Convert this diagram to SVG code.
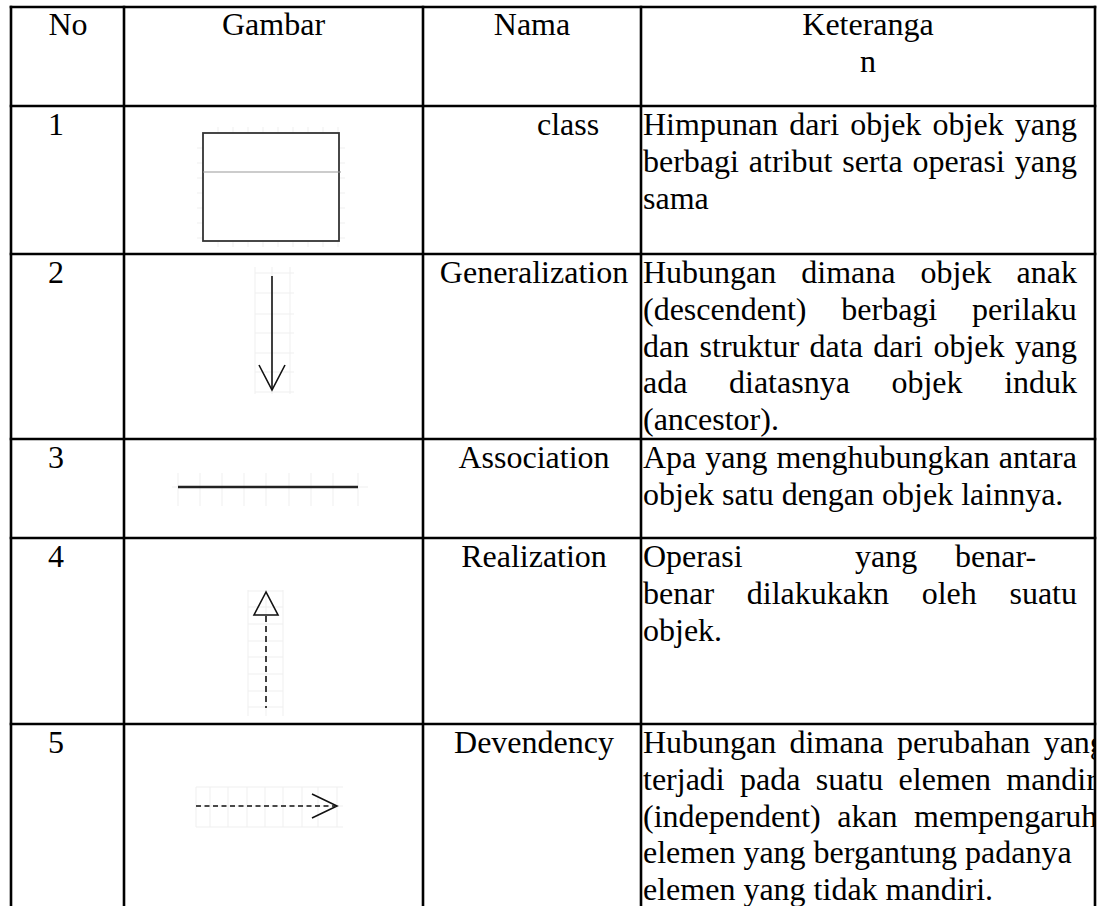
<svg xmlns="http://www.w3.org/2000/svg" width="1106" height="906" viewBox="0 0 1106 906" font-family="'Liberation Serif', 'Times New Roman', 'DejaVu Serif', serif">
<style>
  text{font-family:'Liberation Serif','Times New Roman','DejaVu Serif',serif;font-size:32px;fill:#000}
  .c{text-anchor:middle}
  .b{stroke:#000;stroke-width:2.6;fill:none}
  .g{stroke:#efefef;stroke-width:1;fill:none}
  .s{stroke:#111;stroke-width:1.6;fill:none}
  .d{stroke:#111;stroke-width:1.6;fill:none;stroke-dasharray:5 3.5}
</style>
<defs>
  <clipPath id="cellclip"><rect x="641" y="724" width="453" height="182"/></clipPath>
</defs>
<rect width="1106" height="906" fill="#fff"/>

<g id="table-lines">
  <line class="b" x1="11" y1="5.7" x2="11" y2="906"/>
  <line class="b" x1="124" y1="5.7" x2="124" y2="906"/>
  <line class="b" x1="423" y1="5.7" x2="423" y2="906"/>
  <line class="b" x1="641" y1="5.7" x2="641" y2="906"/>
  <line class="b" x1="1095" y1="5.7" x2="1095" y2="906"/>
  <line class="b" x1="9.7" y1="7" x2="1096.3" y2="7"/>
  <line class="b" x1="9.7" y1="106" x2="1096.3" y2="106"/>
  <line class="b" x1="9.7" y1="254" x2="1096.3" y2="254"/>
  <line class="b" x1="9.7" y1="439" x2="1096.3" y2="439"/>
  <line class="b" x1="9.7" y1="538" x2="1096.3" y2="538"/>
  <line class="b" x1="9.7" y1="724" x2="1096.3" y2="724"/>
</g>

<g id="header">
  <text class="c" x="68" y="35">No</text>
  <text class="c" x="273.5" y="35">Gambar</text>
  <text class="c" x="532" y="35">Nama</text>
  <text class="c" x="868" y="35">Keteranga</text>
  <text class="c" x="868" y="71.8">n</text>
</g>

<g id="row1-class">
  <text x="48" y="135">1</text>
  <g class="g">
    <path d="M218 127V247M233 127V247M248 127V247M263 127V247M278 127V247M293 127V247M308 127V247M323 127V247M338 127V247"/>
    <path d="M197 148H345M197 163H345M197 178H345M197 193H345M197 208H345M197 223H345M197 238H345"/>
  </g>
  <rect x="203" y="133" width="136" height="108" fill="#fff" stroke="#333" stroke-width="1.8"/>
  <line x1="203" y1="172" x2="341" y2="172" stroke="#999" stroke-width="1.2"/>
  <text x="537" y="135">class</text>
  <text x="643" y="135" style="word-spacing:3.2px">Himpunan dari objek objek yang</text>
  <text x="643" y="171.8" style="word-spacing:1.85px">berbagi atribut serta operasi yang</text>
  <text x="643" y="208.6">sama</text>
</g>

<g id="row2-generalization">
  <text x="48" y="283">2</text>
  <g class="g">
    <path d="M255 267V394M290 267V394M272 267V394"/>
    <path d="M255 273H294M255 293H294M255 314H294M255 333H294M255 353H294M255 372H294M255 392H294"/>
  </g>
  <line class="s" x1="272" y1="276" x2="272" y2="389"/>
  <polyline class="s" points="259,365 272,390 285,365"/>
  <text class="c" x="534" y="283">Generalization</text>
  <text x="643" y="283" style="word-spacing:17px">Hubungan dimana objek anak</text>
  <text x="643" y="319.8" style="word-spacing:26.8px">(descendent) berbagi perilaku</text>
  <text x="643" y="356.6" style="word-spacing:2.4px">dan struktur data dari objek yang</text>
  <text x="643" y="393.4" style="word-spacing:33.6px">ada diatasnya objek induk</text>
  <text x="643" y="430.2">(ancestor).</text>
</g>

<g id="row3-association">
  <text x="48" y="468">3</text>
  <g class="g">
    <path d="M178 473V506M200 473V506M222 473V506M244 473V506M266 473V506M289 473V506M311 473V506M333 473V506M358 473V506"/>
    <path d="M172 487H368"/>
  </g>
  <line x1="178" y1="487" x2="358" y2="487" stroke="#222" stroke-width="2.4"/>
  <text class="c" x="534" y="468">Association</text>
  <text x="643" y="468" style="word-spacing:1px">Apa yang menghubungkan antara</text>
  <text x="643" y="504.8">objek satu dengan objek lainnya.</text>
</g>

<g id="row4-realization">
  <text x="48" y="567">4</text>
  <g class="g">
    <path d="M248 590V716M266 590V716M283 590V716"/>
    <path d="M248 591H283M248 607H283M248 624H283M248 641H283M248 657H283M248 674H283M248 691H283M248 707H283"/>
  </g>
  <line class="d" x1="266" y1="616" x2="266" y2="708" style="stroke-dasharray:6 4"/>
  <polygon class="s" points="266,592 254,615 278,615" fill="#fff"/>
  <text class="c" x="534" y="567">Realization</text>
  <text y="567"><tspan x="643">Operasi</tspan><tspan x="855">yang</tspan><tspan x="955">benar-</tspan></text>
  <text x="643" y="603.8" style="word-spacing:24.7px">benar dilakukakn oleh suatu</text>
  <text x="643" y="640.6">objek.</text>
</g>

<g id="row5-dependency">
  <text x="48" y="753">5</text>
  <g class="g">
    <path d="M196 787V827M210 787V827M228 787V827M247 787V827M265 787V827M283 787V827M302 787V827M318 787V827M337 787V827"/>
    <path d="M196 806H343M196 787H343M196 827H343"/>
  </g>
  <line class="d" x1="196" y1="806" x2="335" y2="806"/>
  <polyline class="s" points="312,794 337,806 312,818"/>
  <text class="c" x="534" y="753">Devendency</text>
  <g clip-path="url(#cellclip)">
    <text x="643" y="753" style="word-spacing:5.3px">Hubungan dimana perubahan yang</text>
    <text x="643" y="789.8" style="word-spacing:7.3px">terjadi pada suatu elemen mandiri</text>
    <text x="643" y="826.6" style="word-spacing:8.5px">(independent) akan mempengaruhi</text>
    <text x="643" y="863.4">elemen yang bergantung padanya</text>
    <text x="643" y="900.2">elemen yang tidak mandiri.</text>
  </g>
</g>
</svg>
